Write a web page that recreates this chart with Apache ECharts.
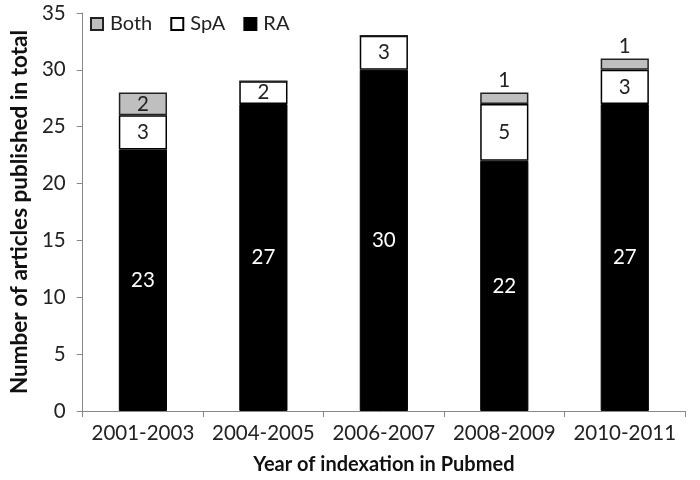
<!DOCTYPE html>
<html><head><meta charset="utf-8">
<script src="https://cdn.jsdelivr.net/npm/echarts@6/dist/echarts.min.js"></script>
<style>html,body{margin:0;padding:0;background:#fff}#c{width:700px;height:480px}</style>
</head><body><div id="c"></div>
<script>
var categories = ['2001-2003','2004-2005','2006-2007','2008-2009','2010-2011'];
var raValues = [23, 27, 30, 22, 27];
var spaValues = [3, 2, 3, 5, 3];
var bothValues = [2, 0, 0, 1, 1];
var yTicks = [0, 5, 10, 15, 20, 25, 30, 35];

var FONT = 'Lato, "Open Sans", sans-serif';
var chart = echarts.init(document.getElementById('c'));

function bothData() {
  return bothValues.map(function (v) {
    if (v === 0) return { value: v, label: { show: false } };
    return { value: v, label: { show: true, position: v >= 2 ? 'inside' : 'top', distance: 2 } };
  });
}

chart.setOption({
  animation: false,
  textStyle: { fontFamily: FONT },
  legend: {
    data: ['Both', 'SpA', 'RA'],
    left: 85, top: 9, icon: 'rect', padding: 5,
    itemWidth: 12, itemHeight: 12, itemGap: 18,
    textStyle: { fontSize: 20, color: '#222', fontFamily: FONT, padding: [0, 0, 0, 2] }
  },
  grid: { left: 72, right: 15, top: 13, bottom: 64 },
  xAxis: {
    type: 'category',
    data: categories,
    name: 'Year of indexation in Pubmed',
    nameLocation: 'middle',
    nameGap: 44,
    nameTextStyle: { fontSize: 20, fontWeight: 'bold', color: '#111', fontFamily: FONT },
    axisLine: { lineStyle: { color: '#888', width: 1 } },
    axisTick: { show: true, length: 6, lineStyle: { color: '#888' } },
    axisLabel: { fontSize: 20.5, color: '#222', margin: 12, interval: 0, fontFamily: FONT }
  },
  yAxis: {
    type: 'value',
    min: 0, max: 35, interval: 5,
    name: 'Number of articles published in total',
    nameLocation: 'middle',
    nameGap: 50,
    nameTextStyle: { fontSize: 22.5, fontWeight: 'bold', color: '#111', fontFamily: FONT },
    axisLine: { show: true, lineStyle: { color: '#888', width: 1 } },
    axisTick: { show: true, length: 6, lineStyle: { color: '#888' } },
    splitLine: { show: false },
    axisLabel: { fontSize: 20.5, color: '#222', margin: 17, fontFamily: FONT,
      formatter: function (v) { return yTicks.indexOf(v) >= 0 ? String(v) : ''; } }
  },
  series: [
    {
      name: 'RA', type: 'bar', stack: 'total', barWidth: '40%',
      data: raValues,
      itemStyle: { color: '#000', borderColor: '#000', borderWidth: 1 },
      label: { show: true, position: 'inside', color: '#fff', fontSize: 20.5, fontFamily: FONT }
    },
    {
      name: 'SpA', type: 'bar', stack: 'total',
      data: spaValues,
      itemStyle: { color: '#fff', borderColor: '#000', borderWidth: 1.5 },
      label: { show: true, position: 'inside', color: '#222', fontSize: 20.5, fontFamily: FONT }
    },
    {
      name: 'Both', type: 'bar', stack: 'total',
      data: bothData(),
      itemStyle: { color: '#bfbfbf', borderColor: '#222', borderWidth: 1.5 },
      label: { show: true, color: '#222', fontSize: 20.5, fontFamily: FONT }
    }
  ]
});
</script></body></html>
